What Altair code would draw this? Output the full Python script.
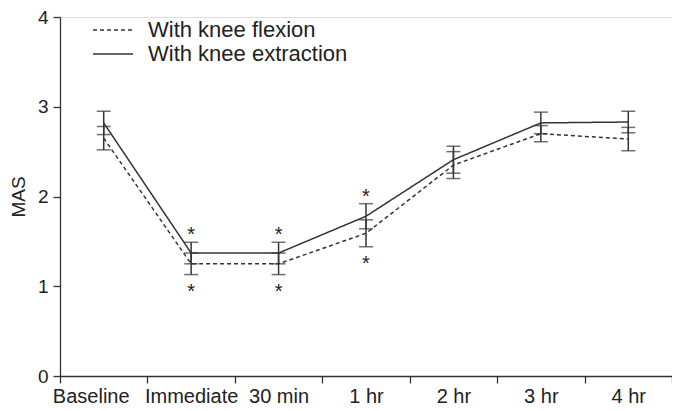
import altair as alt
import pandas as pd

times = ["Baseline", "Immediate", "30 min", "1 hr", "2 hr", "3 hr", "4 hr"]
series = ["With knee flexion", "With knee extraction"]
flex_mean = [2.65, 1.25, 1.25, 1.59, 2.35, 2.70, 2.64]
flex_err = [0.13, 0.12, 0.12, 0.15, 0.15, 0.09, 0.13]
ext_mean = [2.82, 1.37, 1.37, 1.78, 2.41, 2.82, 2.83]
ext_err = [0.13, 0.12, 0.12, 0.14, 0.15, 0.12, 0.12]
significant = [False, True, True, True, False, False, False]

rows = []
for i, t in enumerate(times):
    for s, m, e in ((series[0], flex_mean[i], flex_err[i]), (series[1], ext_mean[i], ext_err[i])):
        rows.append({"time": t, "series": s, "mean": m, "lo": m - e, "hi": m + e})
df = pd.DataFrame(rows)

stars = pd.DataFrame({
    "time": [t for t, s in zip(times, significant) if s],
    "top": [ext_mean[i] + ext_err[i] for i, s in enumerate(significant) if s],
    "bottom": [flex_mean[i] - flex_err[i] for i, s in enumerate(significant) if s],
})

INK = "#333333"
TXT = "#222222"
FONT = "Liberation Sans"

xenc = alt.X(
    "time:N", sort=times, bandPosition=0.5, title=None,
    scale=alt.Scale(type="band", domain=times, paddingInner=0, paddingOuter=0),
    axis=alt.Axis(tickBand="extent", labelAngle=0, labelFontSize=20, labelFont=FONT,
                  labelColor=TXT, domainColor=INK, tickColor=INK, tickSize=7,
                  domainWidth=1.3, tickWidth=1.3, labelPadding=3, grid=False,
                  labelOffset={"condition": {"test": "datum.value === 'Baseline'", "value": -13},
                               "value": 0}),
)
yscale = alt.Scale(domain=[0, 4], nice=False)
yaxis = alt.Axis(values=[0, 1, 2, 3, 4], format="d", labelFontSize=19, labelFont=FONT,
                 labelColor=TXT, domainColor=INK, tickColor=INK, tickSize=7,
                 domainWidth=1.3, tickWidth=1.3, titleFont=FONT, titleFontSize=19,
                 titleFontWeight="normal", titleColor=TXT, titlePadding=9,
                 grid=False, labelPadding=5)

base = alt.Chart(df)

lines = base.mark_line(color=INK, strokeWidth=1.5).encode(
    x=xenc,
    y=alt.Y("mean:Q", scale=yscale, axis=yaxis, title="MAS"),
    strokeDash=alt.StrokeDash(
        "series:N",
        scale=alt.Scale(domain=series, range=[[4, 3], [1, 0]]),
        legend=alt.Legend(title=None, orient="none", legendX=32, legendY=2, padding=0,
                          symbolType="stroke", symbolSize=1600, symbolStrokeWidth=1.5,
                          symbolStrokeColor=INK, labelFontSize=22, labelFont=FONT,
                          labelColor=TXT, labelOffset=14, rowPadding=2, clipHeight=22,
                          labelLimit=400),
    ),
    detail="series:N",
)

rules = base.mark_rule(color=INK, strokeWidth=1.5).encode(
    x=xenc, y=alt.Y("lo:Q", scale=yscale), y2="hi:Q"
)
cap_lo = base.mark_tick(color=INK, thickness=1.5, size=14, orient="horizontal").encode(
    x=xenc, y=alt.Y("lo:Q", scale=yscale)
)
cap_hi = base.mark_tick(color=INK, thickness=1.5, size=14, orient="horizontal").encode(
    x=xenc, y=alt.Y("hi:Q", scale=yscale)
)

star_top = alt.Chart(stars).mark_text(text="*", fontSize=20, font=FONT, color=TXT,
                                      baseline="alphabetic", dy=-1).encode(
    x=xenc, y=alt.Y("top:Q", scale=yscale)
)
star_bot = alt.Chart(stars).mark_text(text="*", fontSize=20, font=FONT, color=TXT,
                                      baseline="alphabetic", dy=23).encode(
    x=xenc, y=alt.Y("bottom:Q", scale=yscale)
)

chart = alt.layer(lines, rules, cap_lo, cap_hi, star_top, star_bot).properties(
    width=612, height=359,
    autosize=alt.AutoSizeParams(type="none"),
    padding={"left": 52, "top": 9, "right": 0, "bottom": 34},
).configure_view(stroke=None).configure(background="white")

chart.save("out.html", embed_options={"renderer": "svg", "actions": False})
